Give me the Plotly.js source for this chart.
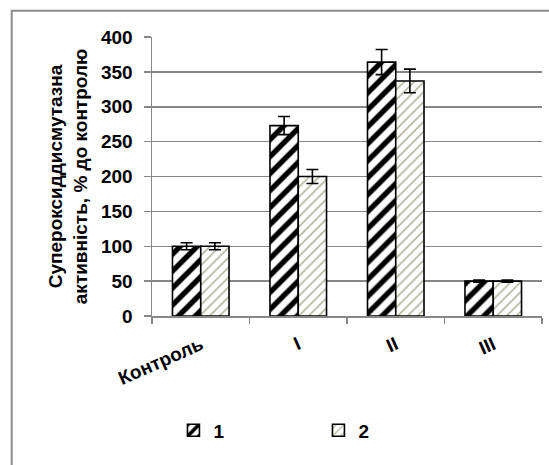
<!DOCTYPE html>
<html>
<head>
<meta charset="utf-8">
<script src="https://cdn.plot.ly/plotly-3.0.1.min.js"></script>
<style>html,body{margin:0;padding:0;background:#fff;}#chart{width:549px;height:465px;}</style>
</head>
<body>
<div id="chart"></div>
<script>
const categories = ["Контроль", "I", "II", "III"];
const seriesNames = ["1", "2"];
const values1 = [100, 273, 364, 50];
const errors1 = [5, 13, 18, 1.5];
const values2 = [100, 200, 337, 50];
const errors2 = [5, 10, 17, 1.5];
const yTickVals = [0, 50, 100, 150, 200, 250, 300, 350, 400];
const yTitle = "Супероксиддисмутазна<br>активність, % до контролю";

const FONT = "Liberation Sans, Arial, sans-serif";
const GRID = "#878787";

const traces = [
  {
    type: "bar", name: seriesNames[0], x: categories, y: values1,
    marker: {
      color: "#ffffff",
      line: {color: "#000000", width: 1.6},
      pattern: {shape: "/", fgcolor: "#000000", bgcolor: "#ffffff", size: 12, solidity: 0.45}
    },
    error_y: {type: "data", array: errors1, visible: true, color: "#000000", thickness: 1.6, width: 6}
  },
  {
    type: "bar", name: seriesNames[1], x: categories, y: values2,
    marker: {
      color: "#ffffff",
      line: {color: "#000000", width: 1.6},
      pattern: {shape: "/", fgcolor: "#a8a68c", bgcolor: "#ffffff", size: 7, solidity: 0.2}
    },
    error_y: {type: "data", array: errors2, visible: true, color: "#000000", thickness: 1.6, width: 6}
  }
];

const layout = {
  width: 549, height: 465,
  margin: {l: 152, r: 7, t: 37, b: 149, pad: 0},
  paper_bgcolor: "#ffffff", plot_bgcolor: "#ffffff",
  font: {family: FONT, size: 18, color: "#000000"},
  barmode: "group", bargap: 0.42, bargroupgap: 0,
  showlegend: true,
  legend: {
    orientation: "h", x: 0.055, xanchor: "left", y: -0.41, yanchor: "middle",
    font: {family: FONT, size: 19, color: "#000000", weight: "bold"},
    entrywidth: 100, traceorder: "normal", bgcolor: "rgba(0,0,0,0)"
  },
  xaxis: {
    type: "category", tickson: "boundaries", ticks: "outside", ticklen: 6, tickwidth: 1.5,
    tickcolor: GRID, showline: true, linecolor: GRID, linewidth: 1.5,
    showgrid: false, zeroline: false, tickangle: -24, ticklabelstandoff: 9,
    tickfont: {family: FONT, size: 19, color: "#000000", weight: "bold"}
  },
  yaxis: {
    range: [0, 400], tickvals: yTickVals, ticktext: yTickVals.map(String),
    ticks: "outside", ticklen: 7, tickwidth: 1.5, tickcolor: GRID,
    showline: true, linecolor: GRID, linewidth: 1.5,
    showgrid: true, gridcolor: GRID, gridwidth: 1.5, zeroline: false,
    ticklabelstandoff: 7,
    tickfont: {family: FONT, size: 19, color: "#000000", weight: "bold"},
    title: {text: yTitle, standoff: 8, font: {family: FONT, size: 19, color: "#000000", weight: "bold"}}
  },
  shapes: [
    {type: "rect", xref: "paper", yref: "paper", x0: -0.3597, x1: 1.2, y0: -0.7, y1: 1.0943,
     line: {color: "#8c8c8c", width: 2}, fillcolor: "rgba(0,0,0,0)", layer: "below"}
  ]
};

Plotly.newPlot("chart", traces, layout, {staticPlot: true, displayModeBar: false});
</script>
</body>
</html>
